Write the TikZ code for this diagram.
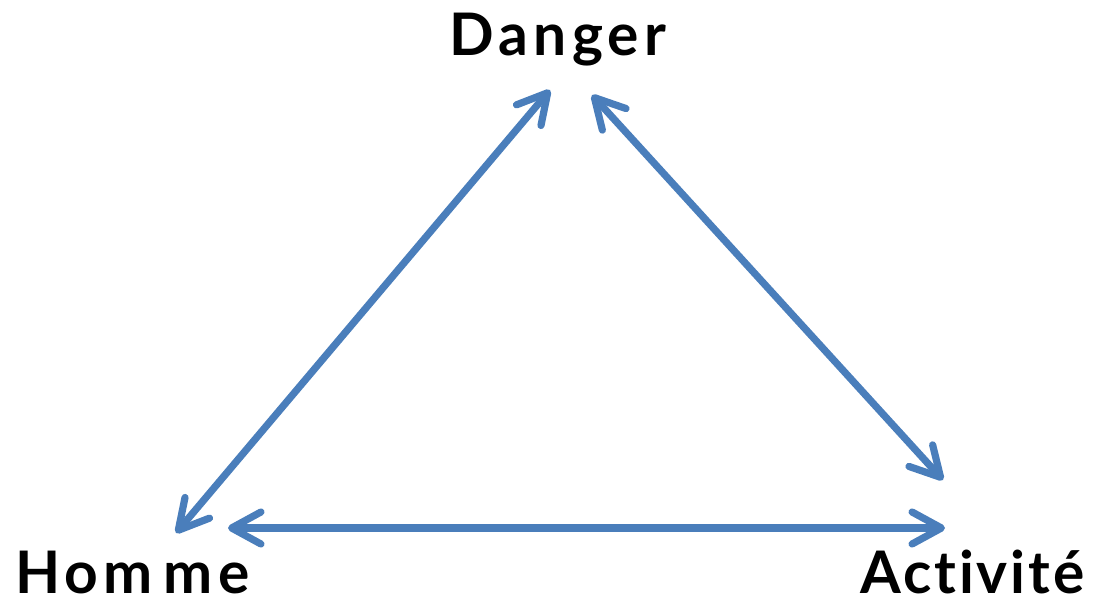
\documentclass[tikz,border=0pt]{standalone}
\usepackage{fontspec}
\setmainfont{Lato}[LetterSpace=9,Ligatures={NoCommon}]
\usetikzlibrary{arrows.meta}
\definecolor{arrowblue}{RGB}{74,126,187}
\tikzset{
  label text/.style={font=\bfseries\fontsize{44}{48}\selectfont, inner sep=0pt, text=black},
  biarrow/.style={draw=arrowblue, line width=5.4pt, line cap=round,
    {Straight Barb[length=22pt,width=24pt,line cap=round,line join=round]}-{Straight Barb[length=22pt,width=24pt,line cap=round,line join=round]}}
}
\begin{document}
\begin{tikzpicture}[x=0.75pt,y=-0.75pt]
\useasboundingbox (0,0) rectangle (1096,605);
\node[label text, anchor=base] (danger) at (558,56) {Danger};
\node[label text, anchor=base west] (homme) at (15,594) {Hom\kern8pt me};
\node[label text, anchor=base west] (activite) at (860,594) {\addfontfeature{LetterSpace=5}Activité};
\coordinate (dL) at (550,90);
\coordinate (dR) at (592,95);
\coordinate (hT) at (176,533);
\coordinate (hR) at (228,528);
\coordinate (aT) at (943,480);
\coordinate (aL) at (945,528);
\draw[biarrow] (dL) -- (hT);
\draw[biarrow] (dR) -- (aT);
\draw[biarrow] (hR) -- (aL);
\end{tikzpicture}
\end{document}
